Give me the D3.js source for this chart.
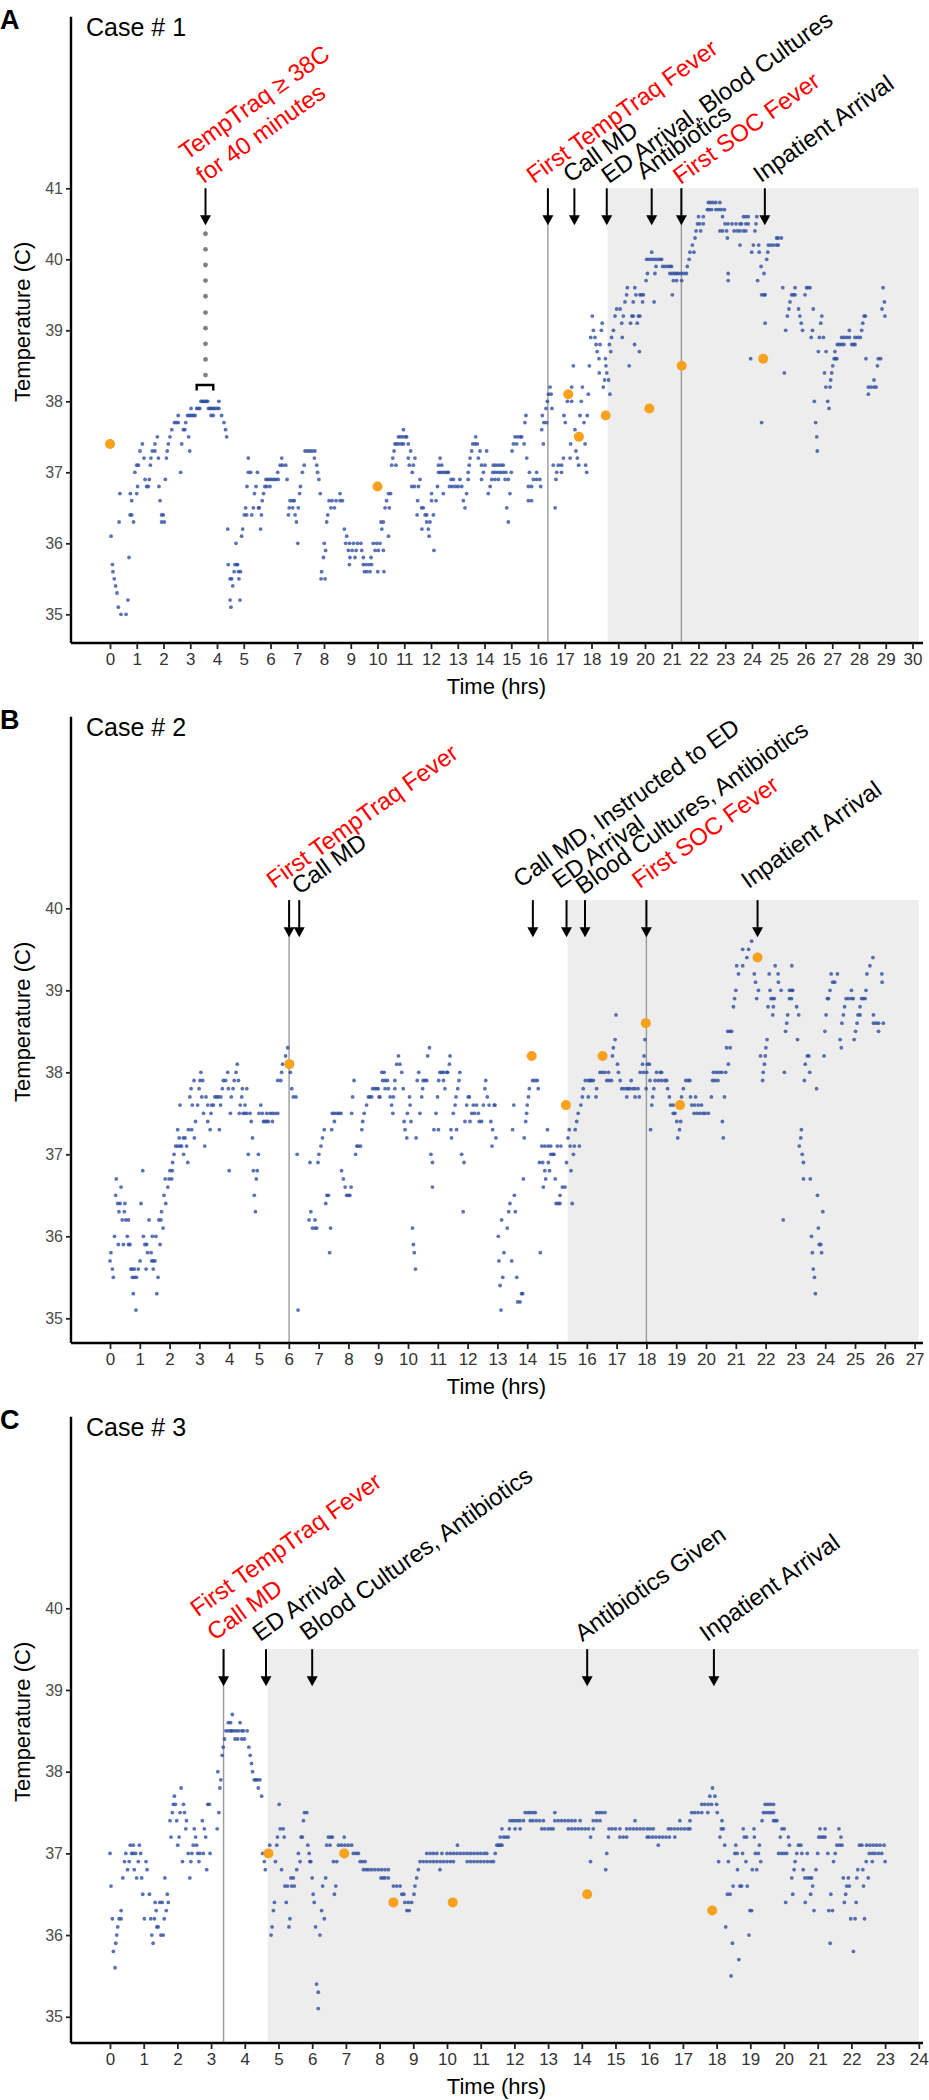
<!DOCTYPE html>
<html><head><meta charset="utf-8">
<script src="https://cdn.jsdelivr.net/npm/d3@7"></script>
<style>
body{margin:0;background:#fff}
text{font-family:"Liberation Sans",Arial,Helvetica,sans-serif}
</style></head>
<body><svg id="chart" width="929" height="2100"></svg>
<script>
// ---------- DATA ----------
const caseA_temps = [
[0.04,36.1],[0.09,35.7],[0.11,35.6],[0.16,35.5],[0.21,35.4],[0.26,35.3],[0.31,35.1],[0.34,36.3],[0.37,36.7],[0.41,35.0],[0.60,35.0],[0.67,35.2],[0.71,35.8],[0.76,36.7],[0.81,36.6],[0.75,36.4],[0.81,36.4],[0.88,36.3],[0.93,37.0],[1.00,37.1],[1.06,37.1],[1.00,36.7],[1.03,36.8],[1.12,37.3],[1.21,37.4],[1.27,37.2],[1.31,36.9],[1.47,36.9],[1.37,36.8],[1.43,36.8],[1.53,37.2],[1.51,37.1],[1.58,37.3],[1.68,37.3],[1.68,37.4],[1.77,37.5],[1.81,37.2],[1.83,36.8],[1.87,36.6],[1.93,36.4],[1.99,36.4],[1.93,36.3],[2.03,36.3],[2.07,36.9],[2.11,37.2],[2.14,37.3],[2.18,37.4],[2.24,37.5],[2.31,37.6],[2.41,37.7],[2.48,37.7],[2.55,37.7],[2.55,37.8],[2.64,37.0],[2.68,37.4],[2.74,37.6],[2.80,37.6],[2.83,37.7],[2.90,37.8],[2.97,37.8],[3.04,37.8],[3.11,37.8],[3.18,37.8],[2.94,37.5],[2.98,37.3],[3.03,37.9],[3.24,37.9],[3.30,37.9],[3.36,37.9],[3.40,38.0],[3.45,38.0],[3.50,38.0],[3.55,38.0],[3.60,38.0],[3.65,38.0],[3.68,37.9],[3.74,37.9],[3.80,37.9],[3.86,37.9],[3.92,37.9],[4.00,37.9],[4.07,37.9],[3.78,37.8],[3.86,37.8],[4.07,38.0],[4.17,37.8],[4.26,37.7],[4.32,37.6],[4.36,37.5],
[4.40,36.2],[4.42,35.7],[4.49,35.2],[4.52,35.1],[4.49,35.5],[4.55,35.5],[4.59,35.4],[4.64,35.6],[4.67,35.7],[4.74,35.7],[4.77,35.7],[4.71,36.0],[4.80,35.6],[4.88,35.6],[4.82,35.5],[4.86,35.2],[4.92,36.1],[4.96,36.2],[5.02,36.4],[5.11,36.4],[5.07,36.5],[5.12,36.8],[5.17,37.2],[5.17,37.0],[5.26,37.0],[5.30,36.4],[5.36,36.5],[5.40,36.7],[5.46,36.8],[5.51,37.0],[5.55,36.5],[5.58,36.5],[5.63,36.2],[5.66,36.4],[5.69,36.6],[5.74,36.7],[5.79,36.8],[5.86,36.8],[5.98,36.8],[5.83,36.9],[5.90,36.9],[5.97,36.9],[6.05,36.9],[6.13,36.9],[6.20,36.9],[6.29,36.9],[6.27,37.0],[6.36,37.1],[6.45,37.1],[6.57,37.1],[6.42,37.2],[6.62,36.9],[6.67,36.4],[6.70,36.5],[6.83,36.5],[6.73,36.6],[6.83,36.6],[6.89,36.6],[6.92,36.4],[6.97,36.3],[7.02,36.0],[7.04,36.5],[7.09,36.7],[7.12,36.8],[7.19,37.0],[7.26,37.1],[7.29,37.3],[7.38,37.3],[7.47,37.3],[7.56,37.3],[7.66,37.3],[7.64,37.2],[7.73,37.1],[7.76,37.0],[7.81,36.9],[7.86,36.7],[7.91,35.6],[7.89,35.5],[8.04,35.5],[7.98,35.8],[8.01,36.0],[8.06,35.9],[8.10,36.3],[8.14,36.4],[8.19,36.6],[8.30,36.6],[8.45,36.6],[8.60,36.6],[8.69,36.6],[8.26,36.5],[8.39,36.5],[8.60,36.7],[8.76,36.2],[8.85,36.1],[8.81,36.0],[8.95,36.0],[9.10,36.0],[9.25,36.0],[9.38,36.0],[8.91,35.9],[9.05,35.9],[9.20,35.9],[9.41,35.9],[8.97,35.8],[9.16,35.8],[8.95,35.7],[9.47,35.8],[9.47,35.7],[9.57,35.7],[9.68,35.7],[9.78,35.7],[9.51,35.6],[9.60,35.6],[9.72,35.6],[9.76,35.8],[9.84,36.0],[9.91,35.9],[10.03,35.9],[9.97,36.0],[10.01,35.6],
[10.13,36.3],[10.22,36.3],[10.16,36.2],[10.09,36.0],[10.22,35.9],[10.24,35.6],[10.34,36.6],[10.41,36.7],[10.49,36.7],[10.28,36.5],[10.44,36.5],[10.41,36.1],[10.53,37.1],[10.69,37.1],[10.57,37.2],[10.62,37.3],[10.65,37.4],[10.72,37.4],[10.80,37.4],[10.90,37.4],[10.97,37.4],[10.78,37.5],[10.86,37.5],[10.95,37.5],[11.05,37.5],[11.09,37.5],[10.97,37.6],[11.15,37.4],[11.24,37.3],[11.19,37.1],[11.34,37.1],[11.15,37.2],[11.40,37.2],[11.30,37.0],[11.28,36.8],[11.38,36.8],[11.53,36.8],[11.59,36.9],[11.50,36.6],[11.65,36.5],[11.71,36.5],[11.48,36.4],[11.78,36.4],[11.84,36.4],[11.66,36.2],[11.90,36.2],[11.84,36.3],[11.96,36.3],[11.93,36.1],[12.02,36.7],[12.02,36.6],[12.19,36.6],[12.09,36.4],[12.11,35.9],[12.24,36.8],[12.34,37.2],[12.28,37.1],[12.40,37.1],[12.28,37.0],[12.36,37.0],[12.44,37.0],[12.52,37.0],[12.60,37.0],[12.65,37.0],[12.46,36.7],[12.75,36.9],[12.84,36.9],[12.69,36.8],[12.80,36.8],[12.92,36.8],[13.02,36.8],[13.15,36.8],[13.08,36.9],[13.21,36.6],[13.27,36.5],[13.33,36.7],[13.39,37.0],[13.39,36.9],[13.43,37.1],[13.46,37.2],[13.52,37.3],[13.56,37.4],[13.65,37.4],[13.73,37.4],[13.67,37.5],[13.77,37.2],[13.83,37.3],[14.08,37.3],[13.89,37.1],[14.02,37.1],[13.89,36.9],[13.96,37.0],[14.14,36.7],[14.21,36.8],[14.27,36.9],[14.33,37.1],[14.42,37.1],[14.52,37.1],[14.62,37.1],[14.70,37.1],[14.31,37.0],[14.40,37.0],[14.50,37.0],[14.60,37.0],[14.70,37.0],[14.80,37.0],[14.39,36.9],[14.52,36.9],[14.77,36.9],[14.89,36.9],[14.83,36.5],[14.89,36.3],[14.95,36.7],[15.00,37.0],[15.03,37.3],[15.08,37.4],[15.20,37.4],[15.14,37.5],[15.24,37.5],[15.34,37.5],[15.39,37.5],[15.48,37.4],[15.51,37.7],[15.55,37.8],[15.58,37.2],[15.64,36.8],[15.76,36.8],[15.64,36.6],[15.76,36.6],[15.68,37.0],[15.83,36.9],[15.95,36.9],[16.07,36.9],[15.95,37.0],[16.10,36.8],[16.14,37.6],[16.16,37.8],[16.20,37.4],[16.22,37.7],[16.32,37.7],[16.30,37.9],[16.35,38.0],[16.39,38.1],[16.45,38.2],[16.49,38.1],[16.52,37.9],[16.57,37.1],[16.64,36.5],[16.67,36.9],[16.70,37.0],[16.76,37.1],[16.88,37.1],[16.88,37.0],[16.95,37.2],[16.97,37.8],[17.02,37.7],[17.10,38.0],[17.26,38.0],[17.20,37.2],[17.22,37.4],[17.26,38.2],[17.32,38.5],[17.38,37.6],[17.42,37.3],[17.47,37.2],[17.52,37.1],[17.57,37.8],[17.62,38.0],[17.66,38.2],[17.72,37.7],[17.76,37.4],[17.78,37.1],[17.82,37.0],[17.84,37.8],[17.88,38.1],[17.92,38.5],[17.97,38.9],[18.03,39.2],[18.07,39.0],[18.13,38.9],[18.17,38.8],[18.21,38.7],[18.28,38.6],[18.32,38.8],[18.37,39.0],[18.40,39.1],[18.29,38.4],[18.44,38.2],[18.49,38.3],[18.57,38.4],[18.54,38.5],[18.52,38.6],[18.64,38.3],[18.69,38.1],[18.67,38.8],[18.72,38.7],[18.75,38.9],[18.82,39.0],[18.88,39.2],[18.94,39.3],[19.07,39.3],[19.13,39.1],[19.15,38.9],[19.19,39.2],[19.25,39.4],[19.31,39.5],[19.34,39.6],[19.41,38.5],[19.46,39.1],[19.51,39.2],[19.56,39.2],[19.56,39.4],[19.62,39.6],[19.66,39.5],[19.61,38.8],[19.71,39.1],[19.75,39.2],[19.79,38.7],
[19.81,39.5],[19.87,39.5],[19.94,39.5],[19.91,39.4],[19.81,39.2],[20.04,39.7],[20.09,39.8],[20.06,40.0],[20.15,40.0],[20.25,40.0],[20.35,40.0],[20.45,40.0],[20.55,40.0],[20.62,40.0],[20.25,40.1],[20.41,39.9],[20.37,39.8],[20.34,39.4],[20.66,39.9],[20.75,39.9],[20.85,39.9],[20.93,39.9],[20.99,39.9],[20.93,39.8],[21.02,39.8],[21.10,39.8],[21.18,39.8],[21.25,39.8],[21.35,39.8],[21.45,39.8],[21.55,39.8],[21.06,39.7],[21.18,39.7],[21.02,39.5],[21.37,39.7],[21.58,39.9],[21.65,40.0],[21.68,40.1],[21.77,40.2],[21.83,40.1],[21.87,40.3],[21.91,40.4],[21.96,40.5],[22.05,40.5],[22.18,40.5],[22.00,40.6],[22.08,40.4],[22.18,40.6],[22.33,40.7],[22.40,40.7],[22.49,40.7],[22.37,40.8],[22.45,40.8],[22.55,40.8],[22.65,40.8],[22.80,40.8],[22.65,40.7],[22.75,40.7],[22.85,40.7],[22.97,40.7],[22.90,40.6],[22.80,40.4],[22.90,40.4],[23.05,40.4],[22.99,40.5],[23.10,40.5],[23.25,40.5],[23.40,40.5],[23.55,40.5],[23.61,40.5],[23.08,40.3],[23.11,39.8],[23.11,39.7],[23.33,40.4],[23.45,40.4],[23.55,40.4],[23.68,40.4],[23.77,40.4],[23.55,40.2],[23.68,40.6],[23.77,40.6],[23.86,40.6],[23.77,40.5],[23.86,40.5],[23.95,38.6],[23.99,40.1],[24.05,40.2],[24.11,40.4],[24.15,40.5],[24.18,40.6],[24.21,39.7],[24.27,40.1],[24.25,40.2],[24.34,39.9],[24.36,39.5],[24.45,39.5],[24.49,39.5],[24.36,37.7],[24.45,39.8],[24.49,39.1],[24.55,40.0],[24.59,40.1],[24.61,40.2],[24.70,40.2],[24.80,40.2],[24.92,40.2],[24.98,40.2],[24.92,40.3],[24.98,40.3],[25.10,40.3],
[25.15,39.6],[25.21,38.4],[25.26,39.0],[25.32,39.2],[25.38,39.3],[25.42,39.4],[25.48,39.5],[25.55,39.5],[25.61,39.5],[25.61,39.6],[25.74,39.3],[25.79,39.2],[25.84,39.1],[25.89,39.0],[25.98,39.5],[26.04,39.6],[26.10,39.6],[26.17,39.6],[26.21,38.9],[26.26,39.0],[26.29,39.3],[26.33,38.0],[26.38,37.7],[26.42,37.5],[26.44,37.3],[26.48,38.7],[26.52,38.9],[26.57,39.1],[26.61,39.2],[26.67,38.9],[26.71,38.4],[26.76,38.2],[26.77,38.7],[26.83,38.0],[26.88,37.9],[26.92,38.2],[26.94,38.3],[26.98,38.4],[27.02,38.5],[27.07,38.6],[27.13,38.6],[27.17,38.6],[27.10,38.7],[27.19,38.8],[27.27,38.8],[27.35,38.8],[27.44,38.8],[27.35,38.9],[27.44,38.9],[27.54,38.9],[27.64,38.9],[27.64,39.0],[27.73,38.8],[27.80,38.8],[27.85,38.8],[27.85,38.9],[27.95,38.9],[28.05,38.9],[28.10,39.0],[28.14,39.1],[28.19,39.2],[28.24,39.2],[28.26,38.6],[28.35,38.2],[28.45,38.2],[28.56,38.2],[28.64,38.2],[28.35,38.1],[28.56,38.3],[28.69,38.5],[28.72,38.6],[28.81,38.6],[28.86,39.3],[28.90,39.6],[28.95,39.4],[28.97,39.2]
];
const caseA_soc = [[0.0,37.4],[10.0,36.8],[17.13,38.1],[17.53,37.5],[18.53,37.8],[20.16,37.9],[21.37,38.5],[24.42,38.6]];
const caseA_window = [40.36,40.14,39.92,39.70,39.48,39.25,39.03,38.81,38.59,38.37];
const caseA_windowTime = 3.57;
const caseA_bracket = [3.24, 3.86, 38.23];

const caseB_temps = [
[0.00,35.7],[0.03,35.8],[0.08,35.6],[0.11,35.5],[0.15,36.0],[0.19,36.5],[0.21,36.7],[0.26,36.4],[0.34,36.4],[0.28,35.9],[0.30,36.3],[0.37,36.6],[0.41,36.2],[0.45,35.9],[0.48,36.3],[0.50,36.4],[0.53,36.2],[0.58,36.0],[0.62,36.2],[0.62,35.9],[0.67,35.9],[0.70,35.6],[0.75,35.6],[0.82,35.6],[0.75,35.5],[0.82,35.5],[0.89,35.5],[0.78,35.3],[0.87,35.1],[0.95,35.6],[1.01,35.7],[1.04,36.4],[1.10,36.8],[1.12,36.0],[1.17,35.9],[1.23,35.9],[1.21,35.6],[1.26,35.8],[1.38,35.8],[1.31,36.2],[1.40,35.7],[1.45,35.7],[1.51,35.7],[1.42,36.0],[1.45,35.6],[1.54,36.0],[1.57,35.3],[1.61,35.5],[1.64,36.2],[1.68,35.9],[1.71,36.2],[1.73,36.3],[1.78,36.1],[1.81,36.5],[1.87,36.4],[1.85,36.7],[1.94,36.6],[1.98,36.7],[2.07,36.7],[2.01,36.8],[2.09,36.8],[2.10,36.9],[2.15,37.0],[2.20,37.1],[2.27,37.1],[2.35,37.1],[2.27,37.3],[2.32,37.2],[2.35,37.6],[2.40,37.1],[2.46,37.2],[2.47,37.0],[2.52,37.2],[2.57,37.1],[2.61,36.9],[2.63,37.3],[2.74,37.3],[2.68,37.7],[2.72,37.8],[2.76,37.6],[2.82,37.9],[2.83,37.2],[2.87,37.4],[2.94,37.6],[2.99,37.8],[3.02,37.9],[3.11,37.9],[3.05,38.0],[3.08,37.7],[3.14,37.5],[3.18,37.1],[3.22,37.7],[3.28,37.6],[3.28,37.4],[3.36,37.3],[3.39,37.5],[3.41,37.6],[3.47,37.6],[3.52,37.7],[3.58,37.7],[3.64,37.7],[3.67,37.3],[3.71,37.6],[3.72,37.7],[3.77,37.8],[3.80,37.9],[3.88,37.9],[3.95,38.0],[3.97,37.8],[4.00,36.8],[4.04,37.5],[4.07,37.7],[4.13,37.8],[4.17,37.9],[4.23,38.0],[4.27,38.1],[4.31,37.9],[4.34,37.5],[4.37,37.6],[4.42,37.7],[4.44,37.8],[4.47,37.5],[4.53,37.5],[4.59,37.5],[4.70,37.5],[4.53,37.6],[4.59,37.8],[4.64,37.0],[4.74,37.4],[4.78,37.2],[4.81,36.8],[4.84,36.5],[4.88,36.3],[4.91,36.7],[4.94,36.8],[4.98,37.0],[5.00,37.5],[5.11,37.5],[5.06,37.6],[5.15,37.4],[5.20,37.4],[5.26,37.4],[5.31,37.4],[5.26,37.5],[5.37,37.5],[5.45,37.5],[5.54,37.5],[5.63,37.5],[5.45,37.4],[5.63,37.9],[5.73,37.9],[5.76,38.0],[5.79,38.1],[5.89,38.2],[5.96,38.3],[6.05,38.0],[6.10,37.8],[6.15,37.7],[6.24,37.7],[6.28,37.0],[6.31,35.1],[6.68,36.2],[6.71,36.9],[6.74,36.3],[6.79,36.1],[6.88,36.1],[6.94,36.1],[6.88,36.2],[6.98,36.9],[7.01,37.0],[7.08,37.1],[7.13,37.2],[7.19,37.3],[7.24,36.4],[7.28,36.5],[7.33,36.5],[7.37,35.8],[7.40,36.1],[7.44,37.3],[7.46,37.5],[7.53,37.5],[7.61,37.5],[7.68,37.5],[7.75,37.5],[7.53,37.4],[7.77,36.8],[7.83,36.7],[7.89,36.6],[7.94,36.5],[8.00,36.5],[8.05,36.5],[8.09,36.6],[8.11,37.5],[8.14,37.7],[8.19,37.9],[8.24,37.0],[8.28,37.1],[8.33,37.1],[8.41,37.1],[8.45,37.3],[8.48,37.4],[8.53,37.5],[8.61,37.6],[8.67,37.7],[8.72,37.7],[8.78,37.7],[8.81,37.8],[8.89,37.8],[8.95,37.8],[9.00,37.8],[9.03,37.7],
[9.06,37.7],[9.12,38.0],[9.20,38.0],[9.15,37.9],[9.23,37.9],[9.31,37.9],[9.23,37.8],[9.34,37.8],[9.40,37.7],[9.51,37.7],[9.45,37.6],[9.49,37.5],[9.56,37.9],[9.56,37.8],[9.62,38.1],[9.73,38.1],[9.68,38.2],[9.79,38.0],[9.84,37.8],[9.87,37.4],[9.90,37.3],[9.96,37.2],[9.98,37.5],[10.05,37.7],[10.07,37.6],[10.10,37.4],[10.15,36.1],[10.18,35.9],[10.21,35.8],[10.25,35.6],[10.27,37.2],[10.31,37.9],[10.36,38.0],[10.40,37.5],[10.46,37.7],[10.49,37.8],[10.51,37.9],[10.57,37.9],[10.63,37.9],[10.66,38.2],[10.72,38.3],[10.77,37.0],[10.82,36.9],[10.82,36.6],[10.87,37.3],[11.02,37.3],[10.94,37.5],[10.99,37.7],[11.03,37.9],[11.07,38.0],[11.13,38.0],[11.19,38.0],[11.30,38.0],[11.19,37.9],[11.24,37.8],[11.33,38.0],[11.39,38.1],[11.41,38.2],[11.44,37.3],[11.63,37.3],[11.46,37.2],[11.52,37.5],[11.58,37.6],[11.61,37.7],[11.67,37.8],[11.71,37.9],[11.74,38.0],[11.80,37.0],[11.85,36.3],[11.88,36.9],[11.91,37.4],[11.97,37.6],[12.02,37.7],[12.06,37.7],[12.08,37.4],[12.14,37.5],[12.19,37.6],[12.30,37.6],[12.23,37.5],[12.36,37.5],[12.39,37.4],[12.47,37.4],[12.53,37.6],[12.58,37.8],[12.61,37.9],[12.66,37.7],[12.72,37.6],[12.78,37.4],[12.82,37.1],[12.84,37.3],[12.89,37.6],[12.92,37.6],[12.95,37.2],[13.03,36.0],[13.05,35.7],[13.09,35.4],[13.12,35.1],[13.14,36.2],[13.18,35.5],[13.22,35.8],[13.33,36.1],[13.38,36.3],[13.42,36.4],[13.48,35.7],[13.51,37.3],[13.55,37.6],[13.57,36.5],[13.60,36.3],[13.65,35.5],[13.68,35.2],[13.76,35.2],[13.81,35.3],[13.85,35.3],[13.87,36.7],[13.90,37.2],[13.95,37.4],[13.98,37.5],[14.00,37.6],[14.04,37.7],[14.07,37.8],[14.18,37.9],[14.26,37.9],[14.34,37.9],[14.37,37.8],[14.41,36.9],[14.52,36.9],[14.44,35.8],[14.49,37.1],[14.59,37.1],[14.70,37.1],[14.79,37.1],[14.54,36.6],[14.59,36.8],[14.62,36.7],[14.68,37.3],[14.71,36.9],[14.75,36.8],[14.79,37.0],[14.86,37.0],[14.90,37.0],[14.94,36.7],[14.97,36.4],[15.04,36.4],[15.10,36.4],[15.01,37.1],[15.13,37.1],[15.10,36.5],[15.18,36.6],[15.27,36.6],[15.32,36.9],[15.37,37.2],[15.41,37.3],[15.44,37.1],[15.47,36.8],[15.51,36.4],[15.55,37.0],[15.58,37.1],[15.61,37.3],[15.66,37.4],[15.71,37.5],[15.75,37.1],[15.80,37.6],[15.85,37.7],[15.88,37.8],[15.95,37.9],[16.05,37.9],[16.15,37.9],[16.22,37.9],[16.05,37.7],[16.11,37.9],[16.31,37.7],[16.33,37.8],[16.44,38.0],[16.52,38.0],[16.61,38.0],[16.67,37.9],[16.75,37.9],[16.83,37.9],[16.73,38.0],[16.86,38.2],[16.89,38.3],[16.95,38.4],[16.98,38.7],[17.03,38.1],[17.06,38.0],[17.12,37.9],[17.17,37.8],[17.25,37.8],[17.34,37.8],[17.39,37.8],[17.34,37.7],[17.49,37.9],[17.45,37.8],[17.55,37.8],[17.62,37.8],[17.72,37.8],[17.62,37.7],[17.76,37.7],
[17.87,38.1],[17.95,38.4],[17.92,38.2],[17.79,38.0],[17.90,38.0],[18.03,38.1],[18.10,38.1],[18.01,38.0],[17.99,37.8],[18.12,37.9],[18.21,37.7],[18.18,37.6],[18.14,37.3],[18.25,37.8],[18.29,37.9],[18.40,37.9],[18.51,37.9],[18.62,37.9],[18.68,37.9],[18.34,38.0],[18.46,38.0],[18.51,38.0],[18.71,37.8],[18.77,37.7],[18.81,37.6],[18.90,37.6],[18.90,37.5],[18.96,37.5],[19.02,37.4],[19.15,37.4],[19.05,37.2],[19.11,37.3],[19.18,37.7],[19.24,37.8],[19.32,37.9],[19.40,37.9],[19.46,37.9],[19.48,37.7],[19.52,37.6],[19.62,37.6],[19.74,37.6],[19.85,37.6],[19.60,37.5],[19.70,37.5],[19.80,37.5],[19.90,37.5],[19.97,37.5],[20.08,37.5],[19.65,37.7],[20.18,37.7],[20.22,37.9],[20.25,38.0],[20.35,38.0],[20.45,38.0],[20.53,38.0],[20.30,37.9],[20.40,37.9],[20.55,37.4],[20.58,37.2],[20.62,37.7],[20.66,38.0],[20.75,38.1],[20.69,38.3],[20.81,38.3],[20.73,38.5],[20.80,38.5],[20.86,38.5],[20.92,38.8],[20.96,38.9],[21.00,39.0],[21.03,39.3],[21.09,39.2],[21.23,39.5],[21.23,39.3],[21.37,39.4],[21.43,39.5],[21.53,39.6],[21.62,39.2],[21.66,39.1],[21.70,38.9],[21.76,39.0],[21.83,38.2],[21.90,37.9],[21.92,38.0],[21.96,38.1],[21.99,38.2],[22.01,38.3],[22.05,38.4],[22.08,38.8],[22.12,39.2],[22.15,39.0],[22.18,38.9],[22.24,38.9],[22.29,38.9],[22.24,38.7],[22.26,38.8],[22.32,39.3],[22.42,39.2],[22.43,39.1],[22.52,39.0],[22.63,38.0],[22.67,38.5],[22.71,38.6],[22.74,38.7],[22.80,39.0],[22.87,39.0],[22.91,39.0],[22.80,38.9],[22.87,38.9],[22.88,39.3],[22.59,36.2],[23.04,38.8],[23.07,38.4],[23.11,38.7],[23.13,37.1],[23.18,37.2],[23.20,37.3],[23.23,37.0],[23.27,36.9],[23.27,36.7],[23.30,37.9],[23.33,38.1],[23.40,38.2],[23.45,38.2],[23.48,38.0],[23.50,36.7],[23.54,36.0],[23.57,35.8],[23.60,35.6],[23.64,35.5],[23.67,35.3],[23.71,37.8],[23.74,36.5],[23.77,36.1],[23.80,35.9],[23.85,35.9],[23.88,35.8],[23.92,36.3],[23.96,38.2],[23.99,38.5],[24.03,38.7],[24.07,38.9],[24.11,38.9],[24.16,39.0],[24.20,39.2],[24.25,39.1],[24.32,39.1],[24.41,39.2],[24.50,38.4],[24.54,38.3],[24.56,38.6],[24.61,38.7],[24.65,38.8],[24.70,38.9],[24.78,38.9],[24.88,38.9],[24.94,38.9],[24.88,39.0],[24.97,38.4],[25.02,38.5],[25.07,38.6],[25.10,38.7],[25.17,38.7],[25.17,38.8],[25.22,38.9],[25.28,38.9],[25.34,38.9],[25.37,39.0],[25.40,39.2],[25.50,39.3],[25.60,39.4],[25.62,38.7],[25.62,38.6],[25.71,38.6],[25.79,38.6],[25.79,38.5],[25.90,39.2],[25.91,39.1],[25.95,38.6]
];
const caseB_soc = [[6.02,38.1],[14.15,38.2],[15.30,37.6],[16.53,38.2],[17.98,38.6],[19.13,37.6],[21.73,39.4]];

const caseC_temps = [
[0.00,37.0],[0.03,36.6],[0.07,36.2],[0.10,35.8],[0.15,35.6],[0.17,35.9],[0.20,36.0],[0.23,36.1],[0.27,36.2],[0.33,36.2],[0.33,36.3],[0.38,36.7],[0.43,36.9],[0.47,37.0],[0.52,36.8],[0.57,36.9],[0.60,37.1],[0.69,37.1],[0.64,37.0],[0.69,37.0],[0.76,37.0],[0.72,36.8],[0.79,36.7],[0.84,36.9],[0.87,37.1],[0.91,37.0],[0.94,36.7],[0.97,36.5],[1.02,36.2],[1.07,36.9],[1.10,36.8],[1.17,36.5],[1.21,36.2],[1.32,36.2],[1.24,36.0],[1.28,35.9],[1.34,36.4],[1.37,36.3],[1.39,36.1],[1.43,36.1],[1.48,36.4],[1.55,36.4],[1.51,36.0],[1.58,36.0],[1.61,36.2],[1.63,36.7],[1.67,36.3],[1.70,36.5],[1.73,36.4],[1.78,37.4],[1.81,37.2],[1.85,37.5],[1.88,37.6],[1.91,37.7],[1.94,37.6],[1.98,37.4],[2.01,37.1],[2.05,37.2],[2.08,37.5],[2.11,37.8],[2.15,36.9],[2.18,37.6],[2.21,37.5],[2.25,37.3],[2.27,37.4],[2.32,37.0],[2.37,36.7],[2.40,36.9],[2.43,37.0],[2.47,37.1],[2.50,37.3],[2.54,37.2],[2.57,37.1],[2.60,37.0],[2.64,36.9],[2.67,37.0],[2.74,37.4],[2.77,37.0],[2.80,37.3],[2.84,37.2],[2.87,36.8],[2.90,37.6],[2.95,37.6],[2.97,37.0],[3.18,37.3],[3.20,38.0],[3.23,37.5],[3.26,37.8],[3.29,37.9],[3.33,38.2],[3.36,38.3],[3.40,38.4],[3.44,38.5],[3.51,38.5],[3.58,38.5],[3.61,38.5],[3.51,38.6],[3.58,38.6],[3.63,38.7],[3.68,38.5],[3.75,38.5],[3.82,38.5],[3.91,38.5],[3.96,38.5],[3.71,38.4],[3.79,38.4],[3.86,38.6],[3.91,38.4],[3.99,38.4],[4.07,38.5],[4.12,38.3],[4.16,38.2],[4.20,38.1],[4.23,38.0],[4.28,37.9],[4.33,37.9],[4.38,37.9],[4.40,37.8],[4.45,37.9],[4.50,37.7],[4.53,37.0],[4.58,36.9],[4.61,36.8],[4.74,37.1],[4.78,36.0],[4.81,36.1],[4.85,36.3],[4.88,36.4],[4.91,36.9],[4.95,37.1],[4.97,37.2],[5.02,37.6],[5.05,37.3],[5.14,37.3],[5.09,36.8],[5.17,37.2],[5.19,36.6],[5.23,36.4],[5.27,36.6],[5.39,36.6],[5.31,36.1],[5.34,36.2],[5.37,36.7],[5.44,36.7],[5.47,36.6],[5.54,36.8],[5.59,37.0],[5.64,36.9],[5.67,37.2],[5.71,37.2],[5.74,37.4],[5.77,37.5],[5.84,37.5],[5.87,37.1],[5.91,37.0],[5.93,36.9],[5.96,36.9],[6.00,36.7],[6.03,36.5],[6.06,36.4],[6.10,36.1],[6.13,35.4],[6.18,35.3],[6.18,35.1],[6.23,36.0],[6.28,36.3],[6.31,36.6],[6.36,36.2],[6.40,36.7],[6.43,37.1],[6.48,37.2],[6.55,37.2],[6.60,37.2],[6.53,37.1],[6.63,36.9],[6.66,36.5],[6.70,36.6],[6.73,36.9],[6.78,37.1],[6.87,37.1],[6.97,37.1],[7.07,37.1],[7.17,37.1],[6.95,37.2],[7.22,37.0],[7.30,37.0],[7.37,37.0],[7.42,36.9],[7.49,36.9],[7.57,36.9],[7.52,36.8],[7.60,36.8],[7.67,36.8],[7.76,36.8],[7.86,36.8],[7.96,36.8],[8.04,36.7],[8.10,36.7],[8.16,36.7],
[8.06,36.8],[8.16,36.8],[8.26,36.8],[8.26,36.7],[8.41,36.6],[8.51,36.6],[8.61,36.6],[8.66,36.5],[8.72,36.5],[8.75,36.4],[8.85,36.4],[8.95,36.4],[8.81,36.3],[8.88,36.3],[9.02,36.5],[9.05,36.6],[9.10,36.7],[9.15,36.8],[9.20,36.9],[9.30,36.9],[9.40,36.9],[9.50,36.9],[9.60,36.9],[9.70,36.9],[9.80,36.9],[9.90,36.9],[10.00,36.9],[10.10,36.9],[10.19,36.9],[9.40,37.0],[9.50,37.0],[9.60,37.0],[9.70,37.0],[9.85,37.0],[10.00,37.0],[10.10,37.0],[10.20,37.0],[10.30,37.0],[10.40,37.0],[10.50,37.0],[10.60,37.0],[10.70,37.0],[10.80,37.0],[10.90,37.0],[11.00,37.0],[11.10,37.0],[11.18,37.0],[9.79,36.8],[10.31,37.1],[10.60,36.9],[10.70,36.9],[10.80,36.9],[10.90,36.9],[11.00,36.9],[11.10,36.9],[11.20,36.9],[11.30,36.9],[11.38,36.9],[11.43,37.0],[11.48,37.1],[11.53,37.1],[11.58,37.1],[11.63,37.1],[11.58,37.2],[11.63,37.3],[11.68,37.2],[11.75,37.2],[11.82,37.2],[11.85,37.3],[11.87,37.4],[11.95,37.4],[12.02,37.4],[12.10,37.4],[12.17,37.4],[12.27,37.4],[12.02,37.3],[12.17,37.3],[12.32,37.5],[12.40,37.5],[12.47,37.5],[12.55,37.5],[12.62,37.5],[12.47,37.4],[12.55,37.4],[12.65,37.4],[12.75,37.4],[12.86,37.4],[12.81,37.3],[12.90,37.3],[13.00,37.3],[13.08,37.3],[13.15,37.3],[13.20,37.5],[13.20,37.4],[13.30,37.4],[13.40,37.4],[13.50,37.4],[13.60,37.4],[13.70,37.4],[13.80,37.4],[13.95,37.4],[13.60,37.3],[13.70,37.3],[13.80,37.3],[13.90,37.3],[14.00,37.3],[14.10,37.3],[14.20,37.3],[14.34,37.3],[14.26,37.2],[14.26,36.9],[14.34,37.4],[14.44,37.4],[14.54,37.4],[14.44,37.5],[14.52,37.5],[14.60,37.5],[14.69,37.5],[14.74,37.0],[14.71,36.8],[14.79,37.2],[14.81,37.3],[14.90,37.3],[15.00,37.3],[15.13,37.3],[15.13,37.2],[15.23,37.2],[15.33,37.2],[15.33,37.3],[15.43,37.3],[15.53,37.3],[15.63,37.3],[15.58,37.4],
[15.73,37.3],[15.83,37.3],[15.94,37.3],[16.03,37.3],[16.12,37.3],[15.94,37.2],[16.00,37.2],[16.10,37.2],[16.20,37.2],[16.30,37.2],[16.40,37.2],[16.50,37.2],[16.60,37.2],[16.76,37.2],[16.27,37.1],[16.57,37.3],[16.65,37.3],[16.75,37.3],[16.85,37.3],[16.95,37.3],[17.05,37.3],[17.15,37.3],[17.21,37.3],[16.91,37.4],[17.21,37.4],[17.26,37.5],[17.35,37.5],[17.45,37.5],[17.56,37.5],[17.56,37.6],[17.65,37.6],[17.75,37.6],[17.85,37.6],[17.74,37.5],[17.80,37.7],[17.95,37.7],[17.88,37.8],[18.00,37.6],[18.02,37.5],[18.06,36.9],[18.10,37.2],[18.14,37.3],[18.16,37.4],[18.20,37.3],[18.24,37.1],[18.27,36.1],[18.32,36.5],[18.40,36.5],[18.35,36.9],[18.43,35.5],[18.47,35.9],[18.49,36.6],[18.54,37.0],[18.61,37.0],[18.57,37.1],[18.62,36.8],[18.66,35.7],[18.69,36.6],[18.74,36.6],[18.77,37.0],[18.79,37.3],[18.82,37.2],[18.89,37.2],[18.87,36.9],[18.91,36.6],[18.96,36.0],[18.99,36.3],[19.04,36.3],[19.06,36.8],[19.19,36.8],[19.11,37.3],[19.12,37.2],[19.15,37.0],[19.24,37.0],[19.27,37.1],[19.31,36.9],[19.35,37.4],[19.39,37.5],[19.47,37.5],[19.55,37.5],[19.62,37.5],[19.69,37.5],[19.44,37.6],[19.52,37.6],[19.60,37.6],[19.69,37.6],[19.69,37.4],[19.74,37.4],[19.79,37.4],[19.89,37.2],[19.84,37.0],[19.92,37.0],[20.00,37.0],[20.08,37.0],[19.94,37.3],[20.01,37.3],[20.05,36.4],[20.13,37.2],[20.16,37.1],[20.23,36.7],[20.26,36.5],[20.30,36.8],[20.33,36.9],[20.38,37.0],[20.43,37.1],[20.50,37.1],[20.53,37.0],[20.57,36.8],[20.62,36.7],[20.70,36.7],[20.77,36.7],[20.82,36.7],[20.63,36.4],[20.69,37.0],[20.79,36.5],[20.85,36.6],[20.89,36.3],[20.95,36.8],[21.00,37.0],[21.03,37.2],[21.10,37.2],[21.16,37.2],[21.22,37.2],[21.07,37.3],[21.22,37.3],[21.30,37.0],[21.33,36.3],[21.44,36.3],[21.37,35.9],[21.39,36.5],[21.47,36.9],[21.52,37.0],[21.57,37.1],[21.65,37.1],[21.72,37.1],[21.63,37.3],[21.69,37.2],[21.76,36.7],[21.79,36.4],[21.83,36.5],[21.86,36.6],[21.91,36.7],[21.94,36.6],[21.98,36.2],[22.11,36.2],[22.06,35.8],[22.14,36.4],[22.16,36.7],[22.19,36.8],[22.24,37.1],[22.31,37.1],[22.34,36.8],[22.36,36.6],[22.39,36.2],[22.44,36.9],[22.45,37.1],[22.55,37.1],[22.65,37.1],[22.75,37.1],[22.85,37.1],[22.97,37.1],[22.50,36.7],[22.53,37.0],[22.62,37.0],[22.70,37.0],[22.80,37.0],[22.90,37.0],[22.62,36.9],[23.00,36.9]
];
const caseC_soc = [[4.70,37.0],[6.95,37.0],[8.41,36.4],[10.17,36.4],[14.16,36.5],[17.87,36.3]];

// events: time, label lines, colour, vertical reference line
const caseA_events = [
  {t:3.57,  lines:["TempTraq \u2265 38C","for 40 minutes"], red:true,  vline:false, nudge:[-2,-4]},
  {t:16.37, lines:["First TempTraq Fever"], red:true,  vline:true,  nudge:[-14,-4]},
  {t:17.36, lines:["Call MD"], red:false, vline:false, nudge:[-4,-5]},
  {t:18.57, lines:["ED Arrival, Blood Cultures"], red:false, vline:false, nudge:[2,-4]},
  {t:20.25, lines:["Antibiotics"], red:false, vline:false, nudge:[-8,-8]},
  {t:21.36, lines:["First SOC Fever"], red:true,  vline:true,  nudge:[-1,-3]},
  {t:24.48, lines:["Inpatient Arrival"], red:false, vline:false, nudge:[-4,-5]}
];
const caseB_events = [
  {t:6.01,  lines:["First TempTraq Fever"], red:true,  vline:true,  nudge:[-15,-11]},
  {t:6.35,  lines:["Call MD"], red:false, vline:false, nudge:[0,-5]},
  {t:14.19, lines:["Call MD, Instructed to ED"], red:false, vline:false, nudge:[-12,-12]},
  {t:15.32, lines:["ED Arrival"], red:false, vline:false, nudge:[-7,-11]},
  {t:15.94, lines:["Blood Cultures, Antibiotics"], red:false, vline:false, nudge:[-2,-5]},
  {t:18.0,  lines:["First SOC Fever"], red:true,  vline:true,  nudge:[-7,-11]},
  {t:21.73, lines:["Inpatient Arrival"], red:false, vline:false, nudge:[-9,-11]}
];
const caseC_events = [
  {t:3.37,  lines:["First TempTraq Fever","Call MD"], red:true,  vline:true,  nudge:[-9,-8]},
  {t:4.63,  lines:["ED Arrival"], red:false, vline:false, nudge:[-6,-7]},
  {t:6.0,   lines:["Blood Cultures, Antibiotics"], red:false, vline:false, nudge:[-5,-8]},
  {t:14.16, lines:["Antibiotics Given"], red:false, vline:false, nudge:[-5,-7]},
  {t:17.92, lines:["Inpatient Arrival"], red:false, vline:false, nudge:[-7,-7]}
];

const panels = [
  {letter:"A", title:"Case # 1", temps:caseA_temps, soc:caseA_soc, events:caseA_events,
   xDomain:[-1.458,30.355], yDomain:[34.596,43.417], xMax:30, yTicks:[35,36,37,38,39,40,41],
   shadeStart:18.6, shadeTop:41},
  {letter:"B", title:"Case # 2", temps:caseB_temps, soc:caseB_soc, events:caseB_events,
   xDomain:[-1.309,27.248], yDomain:[34.699,42.337], xMax:27, yTicks:[35,36,37,38,39,40],
   shadeStart:15.36, shadeTop:40.1},
  {letter:"C", title:"Case # 3", temps:caseC_temps, soc:caseC_soc, events:caseC_events,
   xDomain:[-1.157,24.095], yDomain:[34.679,42.345], xMax:24, yTicks:[35,36,37,38,39,40],
   shadeStart:4.68, shadeTop:39.5}
];

// ---------- LAYOUT ----------
const svg = d3.select("#chart");
const L = 71, R = 922, T = 16.7, B = 643, PANEL_H = 700;
const ANGLE = 35.5, ARROW = 37, LABEL_SIZE = 24, LINE_H = 29;

panels.forEach((p, i) => {
  const g = svg.append("g").attr("transform", `translate(0,${i*PANEL_H})`);
  const x = d3.scaleLinear().domain(p.xDomain).range([L, R]);
  const y = d3.scaleLinear().domain(p.yDomain).range([B, T]);

  g.append("rect")
    .attr("x", x(p.shadeStart)).attr("y", y(p.shadeTop))
    .attr("width", R - 3.5 - x(p.shadeStart)).attr("height", B - 1.5 - y(p.shadeTop))
    .attr("fill", "#ededed");

  p.events.filter(e => e.vline).forEach(e => {
    g.append("line").attr("x1", x(e.t)).attr("x2", x(e.t))
      .attr("y1", y(p.shadeTop)).attr("y2", B)
      .attr("stroke", "#9a9a9a").attr("stroke-width", 1.4);
  });

  g.append("g").selectAll("circle").data(p.temps).join("circle")
    .attr("cx", d => x(d[0])).attr("cy", d => y(d[1])).attr("r", 1.9)
    .attr("fill", "#2c4b9f").attr("fill-opacity", 0.78);

  g.append("g").selectAll("circle").data(p.soc).join("circle")
    .attr("cx", d => x(d[0])).attr("cy", d => y(d[1])).attr("r", 5)
    .attr("fill", "#f8a11c");

  if (p.letter === "A") {
    g.append("g").selectAll("circle").data(caseA_window).join("circle")
      .attr("cx", x(caseA_windowTime)).attr("cy", d => y(d)).attr("r", 2.4)
      .attr("fill", "#808080");
    const [b0, b1, lv] = caseA_bracket;
    g.append("path")
      .attr("d", `M${x(b0)},${y(lv)+5.5}V${y(lv)}H${x(b1)}V${y(lv)+5.5}`)
      .attr("fill", "none").attr("stroke", "#000").attr("stroke-width", 2.4);
  }

  p.events.forEach(e => {
    const ax = x(e.t), ay = y(p.shadeTop);
    g.append("line").attr("x1", ax).attr("x2", ax).attr("y1", ay).attr("y2", ay + ARROW - 9)
      .attr("stroke", "#000").attr("stroke-width", 2);
    g.append("path")
      .attr("d", `M${ax-5.5},${ay+ARROW-10}L${ax+5.5},${ay+ARROW-10}L${ax},${ay+ARROW}Z`)
      .attr("fill", "#000");
    const tg = g.append("g")
      .attr("transform", `translate(${ax + e.nudge[0]},${ay + e.nudge[1]}) rotate(${-ANGLE})`);
    const n = e.lines.length;
    e.lines.forEach((ln, k) => {
      tg.append("text").attr("x", 0).attr("y", -(n - 1 - k) * LINE_H)
        .attr("font-size", LABEL_SIZE).attr("fill", e.red ? "#ff0000" : "#000").text(ln);
    });
  });

  const xAxis = d3.axisBottom(x).tickValues(d3.range(0, p.xMax + 1)).tickSize(6).tickPadding(4);
  const gx = g.append("g").attr("transform", `translate(0,${B})`).call(xAxis);
  gx.select(".domain").attr("d", `M${L},0H${R+1}`).attr("stroke", "#000").attr("stroke-width", 2.6);
  gx.selectAll(".tick line").attr("stroke", "#222").attr("stroke-width", 1.8);
  gx.selectAll(".tick text").attr("font-size", 17).attr("fill", "#333")
    .attr("font-family", '"Liberation Sans",Arial,sans-serif');

  const yAxis = d3.axisLeft(y).tickValues(p.yTicks).tickFormat(d3.format("d")).tickSize(5).tickPadding(3);
  const gy = g.append("g").attr("transform", `translate(${L},0)`).call(yAxis);
  gy.select(".domain").attr("d", `M0,${T}V${B}`).attr("stroke", "#000").attr("stroke-width", 2.4);
  gy.selectAll(".tick line").attr("stroke", "#222").attr("stroke-width", 1.8);
  gy.selectAll(".tick text").attr("font-size", 16).attr("fill", "#4d4d4d")
    .attr("font-family", '"Liberation Sans",Arial,sans-serif');

  g.append("text").attr("x", (L + R) / 2).attr("y", 694).attr("text-anchor", "middle")
    .attr("font-size", 22).attr("fill", "#000").text("Time (hrs)");
  g.append("text").attr("transform", `translate(30,${(T + B) / 2 - 8}) rotate(-90)`)
    .attr("text-anchor", "middle").attr("font-size", 22).attr("fill", "#000").text("Temperature (C)");
  g.append("text").attr("x", 86).attr("y", 36).attr("font-size", 25).attr("fill", "#000").text(p.title);
  g.append("text").attr("x", 0).attr("y", 29).attr("font-size", 27).attr("font-weight", "bold")
    .attr("fill", "#000").text(p.letter);
});
</script>
</body></html>
